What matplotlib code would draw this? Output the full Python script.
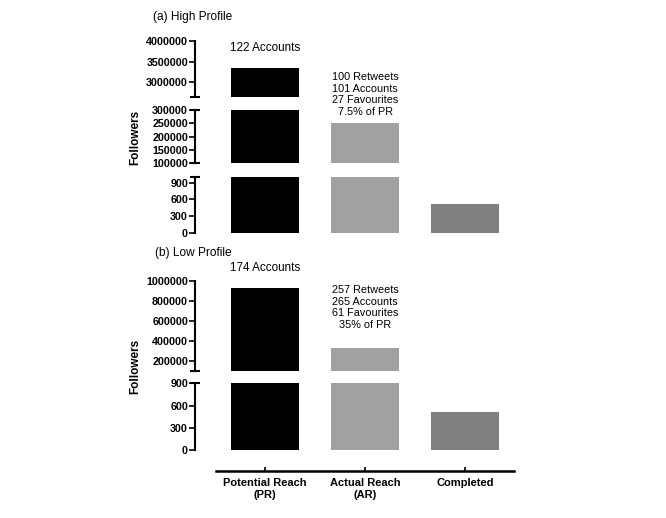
import matplotlib
matplotlib.use("Agg")
import matplotlib.pyplot as plt
import matplotlib.transforms as mtransforms

plt.rcParams['font.family'] = ['Liberation Sans', 'DejaVu Sans']

# ---------------- data ----------------
categories = ["Potential Reach\n(PR)", "Actual Reach\n(AR)", "Completed"]
high_values = [3350000, 252000, 513]
low_values = [925000, 324000, 510]
bar_colors = ["#000000", "#a1a1a4", "#808080"]

high_title = "(a) High Profile"
low_title = "(b) Low Profile"
high_pr_note = "122 Accounts"
low_pr_note = "174 Accounts"
high_ar_note = "100 Retweets\n101 Accounts\n27 Favourites\n7.5% of PR"
low_ar_note = "257 Retweets\n265 Accounts\n61 Favourites\n35% of PR"

# broken-axis segments (ylim) and their ticks
high_ylims = [(2650000, 4000000), (100000, 300000), (0, 1000)]
high_ticks = [[3000000, 3500000, 4000000],
              [100000, 150000, 200000, 250000, 300000],
              [0, 300, 600, 900]]
low_ylims = [(100000, 1000000), (0, 900)]
low_ticks = [[200000, 400000, 600000, 800000, 1000000],
             [0, 300, 600, 900]]

# ---------------- layout (pixels) ----------------
W, H = 666, 518
fig = plt.figure(figsize=(W / 100, H / 100), dpi=100)
x_left_px, x_right_px = 195, 514
XLIM = (-0.70, 2.49)

high_px = [(41, 96.7), (110, 163.3), (177.2, 232.7)]
low_px = [(280.7, 370.7), (383.3, 450)]


def make_ax(top, bottom):
    return fig.add_axes([x_left_px / W, 1 - bottom / H,
                         (x_right_px - x_left_px) / W, (bottom - top) / H])


def draw_panel(values, ylims, ticks, pxs):
    axes = []
    n = len(ylims)
    for i, (yl, tk, (t, b)) in enumerate(zip(ylims, ticks, pxs)):
        ax = make_ax(t, b)
        ax.bar(range(len(values)), values, width=0.68, color=bar_colors)
        ax.set_xlim(*XLIM)
        ax.set_ylim(*yl)
        ax.set_yticks(tk)
        ax.set_yticklabels([str(v) for v in tk], fontweight='bold', fontsize=7.7)
        for s in ['top', 'right', 'bottom']:
            ax.spines[s].set_visible(False)
        ax.spines['left'].set_linewidth(1.5)
        ax.tick_params(axis='y', direction='out', length=4.5, width=1.2, pad=0.5)
        ax.set_xticks([])
        ax.patch.set_alpha(0)
        # break caps
        caps = []
        if i > 0:
            caps.append(1)
        if i < n - 1:
            caps.append(0)
        for c in caps:
            ax.plot([0], [c], marker='_', markersize=7, mew=1.5, color='k',
                    transform=ax.transAxes, clip_on=False)
        axes.append(ax)
    return axes


ha = draw_panel(high_values, high_ylims, high_ticks, high_px)
la = draw_panel(low_values, low_ylims, low_ticks, low_px)

# x axis
axx = make_ax(440, 471)
axx.set_xlim(*XLIM)
axx.set_ylim(0, 1)
for s in ['top', 'right', 'left']:
    axx.spines[s].set_visible(False)
axx.spines['bottom'].set_linewidth(1.8)
axx.spines['bottom'].set_bounds(-0.49, 2.49)
axx.set_yticks([])
axx.set_xticks(range(len(categories)))
axx.set_xticklabels(categories, fontweight='bold', fontsize=8, linespacing=1.2)
axx.tick_params(axis='x', direction='in', length=3, width=1.2, pad=5)
axx.patch.set_alpha(0)


def fy(px):
    return 1 - px / H


# titles
fig.text(153 / W, fy(17), high_title, fontsize=8.6, va='center', ha='left')
fig.text(155 / W, fy(253), low_title, fontsize=8.6, va='center', ha='left')

# y labels
fig.text(135 / W, fy(137), "Followers", rotation=90, fontsize=8.5,
         fontweight='bold', va='center', ha='center')
fig.text(135 / W, fy(366), "Followers", rotation=90, fontsize=8.5,
         fontweight='bold', va='center', ha='center')

# annotations, x in data coordinates
tr_h = mtransforms.blended_transform_factory(ha[0].transData, fig.transFigure)
tr_l = mtransforms.blended_transform_factory(la[0].transData, fig.transFigure)
fig.text(0, fy(48), high_pr_note, transform=tr_h, fontsize=8.4,
         ha='center', va='center')
fig.text(0, fy(268), low_pr_note, transform=tr_l, fontsize=8.4,
         ha='center', va='center')
fig.text(1, fy(94.5), high_ar_note, transform=tr_h, fontsize=7.8,
         ha='center', va='center', linespacing=1.22)
fig.text(1, fy(307.5), low_ar_note, transform=tr_l, fontsize=7.8,
         ha='center', va='center', linespacing=1.22)

fig.savefig("out.png", dpi=100)
